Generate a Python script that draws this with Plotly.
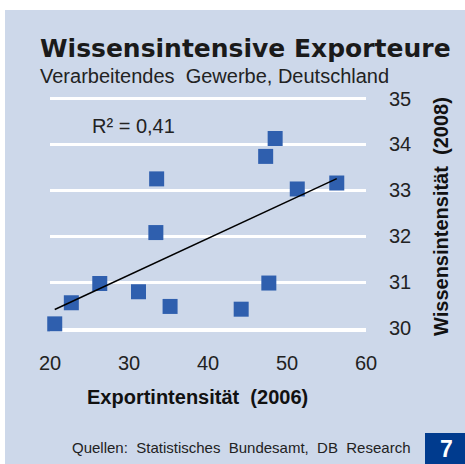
import numpy as np
import plotly.graph_objects as go

export_2006 = [20.6, 22.7, 26.3, 31.2, 33.5, 33.4, 35.2, 44.2, 47.3, 48.5, 47.7, 51.3, 56.3]
wissen_2008 = [30.09, 30.55, 30.97, 30.79, 33.25, 32.08, 30.47, 30.41, 33.74, 34.13, 30.98, 33.03, 33.16]
x_ticks = [20, 30, 40, 50, 60]
y_ticks = [30, 31, 32, 33, 34, 35]

NB = "\u00a0"
title = "Wissensintensive Exporteure"
subtitle = f"Verarbeitendes{NB} Gewerbe, Deutschland"
x_title = f"Exportintensität{NB} (2006)"
y_title = f"Wissensintensität{NB} (2008)"
source = f"Quellen:{NB} Statistisches{NB} Bundesamt,{NB} DB{NB} Research"
r2_label = "R² = 0,41"
chart_no = "7"

BG = "#cdd8ea"
BLUE = "#2f5fae"
FONT = "Liberation Sans, Arial, sans-serif"

xs = np.array(export_2006)
ys = np.array(wissen_2008)
m, b = np.polyfit(xs, ys, 1)
tx = np.array([xs.min(), xs.max()])
ty = m * tx + b

W, H = 465, 464
L, R, T, B = 50, 99, 94, 136
pw, ph = W - L - R, H - T - B

def px(sx):
    return (sx - L) / pw

def py(sy):
    return (H - B - sy) / ph

fig = go.Figure()
fig.add_trace(go.Scatter(x=xs, y=ys, mode="markers",
                         marker=dict(symbol="square", size=15, color=BLUE),
                         cliponaxis=False, showlegend=False))
fig.add_trace(go.Scatter(x=tx, y=ty, mode="lines",
                         line=dict(color="black", width=1.5),
                         cliponaxis=False, showlegend=False))

fig.update_layout(
    width=W, height=H,
    margin=dict(l=L, r=R, t=T, b=B, pad=0),
    paper_bgcolor="white",
    plot_bgcolor=BG,
    font=dict(family=FONT, color="#222222"),
    showlegend=False,
    xaxis=dict(range=[20, 60], tickvals=x_ticks, showgrid=False, zeroline=False,
               showline=True, linecolor="white", linewidth=4, layer="below traces",
               ticks="", tickfont=dict(size=20, color="#222222"),
               ticklabelstandoff=14),
    yaxis=dict(range=[30, 35.1], tickvals=y_ticks, side="right", showgrid=True,
               gridcolor="white", gridwidth=2.5, zeroline=False, showline=False,
               layer="below traces",
               ticks="", tickfont=dict(size=20, color="#222222"),
               ticklabelstandoff=22),
    shapes=[
        dict(type="rect", xref="paper", yref="paper", layer="below",
             x0=px(5), x1=px(470), y0=py(470), y1=py(10),
             fillcolor=BG, line=dict(width=0)),
        dict(type="rect", xref="paper", yref="paper", layer="above",
             x0=px(425), x1=px(470), y0=py(470), y1=py(433),
             fillcolor="#003b8e", line=dict(width=0)),
    ],
    annotations=[
        dict(text=title, xref="paper", yref="paper", x=px(38), y=py(48),
             xanchor="left", yanchor="middle", showarrow=False,
             font=dict(family="DejaVu Sans, sans-serif", size=25, color="#1a1a1a", weight="bold")),
        dict(text=subtitle, xref="paper", yref="paper", x=px(38), y=py(76),
             xanchor="left", yanchor="middle", showarrow=False,
             font=dict(size=20, color="#222222")),
        dict(text=r2_label, xref="x", yref="y", x=25.1, y=34.4,
             xanchor="left", yanchor="middle", showarrow=False,
             font=dict(size=20, color="#222222")),
        dict(text=x_title, xref="paper", yref="paper", x=px(197), y=py(397),
             xanchor="center", yanchor="middle", showarrow=False,
             font=dict(size=20, color="#111111", weight="bold")),
        dict(text=y_title, xref="paper", yref="paper", x=px(441), y=py(217),
             xanchor="center", yanchor="middle", showarrow=False, textangle=-90,
             font=dict(size=20, color="#111111", weight="bold")),
        dict(text=source, xref="paper", yref="paper", x=px(413), y=py(447),
             xanchor="right", yanchor="middle", showarrow=False,
             font=dict(size=15, color="#222222")),
        dict(text=chart_no, xref="paper", yref="paper", x=px(446), y=py(449),
             xanchor="center", yanchor="middle", showarrow=False,
             font=dict(size=23, color="white", weight="bold")),
    ],
)

fig.write_html("out.html", config={"displayModeBar": False},
               post_script="document.body.style.margin='0';document.documentElement.style.overflow='hidden';")
